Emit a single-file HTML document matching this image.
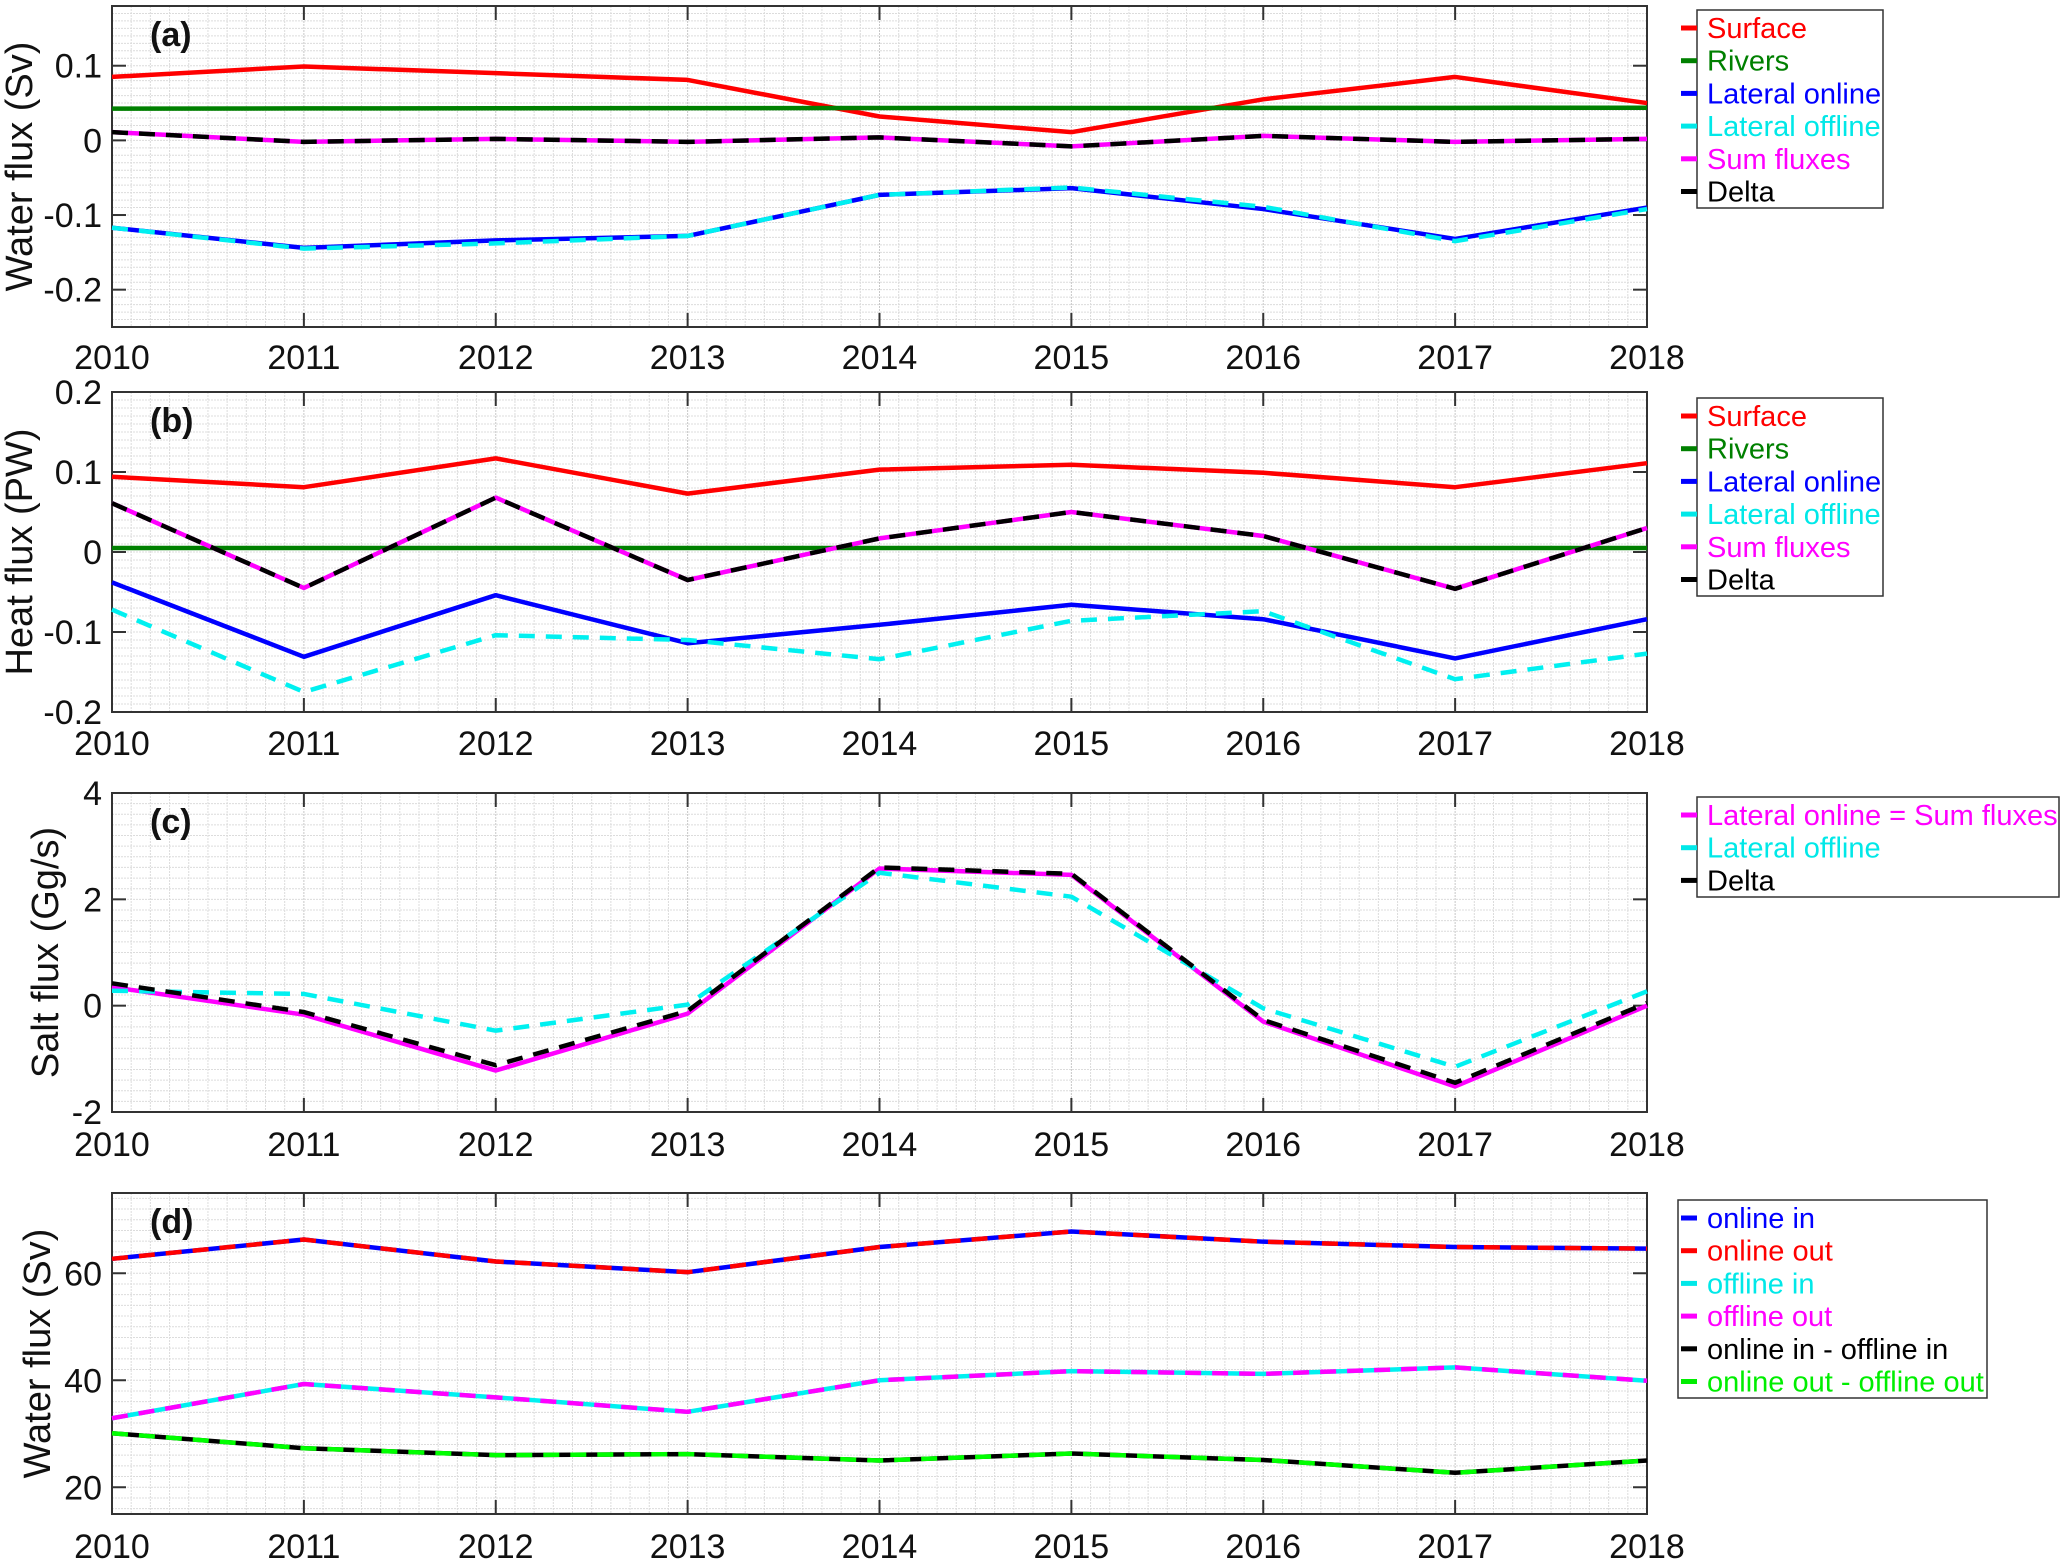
<!DOCTYPE html>
<html><head><meta charset="utf-8"><style>
html,body{margin:0;padding:0;background:#fff;}
svg{display:block;font-family:"Liberation Sans",Arial,sans-serif;}
</style></head><body>
<svg id="fig" width="2067" height="1565" viewBox="0 0 2067 1565" xmlns="http://www.w3.org/2000/svg"></svg>
<script>
const years = [2010,2011,2012,2013,2014,2015,2016,2017,2018];
// Panel (a) water flux (Sv)
const aSurface = [0.085,0.099,0.090,0.081,0.032,0.011,0.055,0.085,0.050];
const aRivers = [0.0425,0.0428,0.043,0.0432,0.0433,0.0434,0.0435,0.0436,0.0437];
const aOnline = [-0.117,-0.144,-0.134,-0.128,-0.073,-0.064,-0.092,-0.132,-0.090];
const aOffline = [-0.117,-0.145,-0.138,-0.128,-0.073,-0.063,-0.089,-0.135,-0.092];
const aSum = [0.011,-0.002,0.002,-0.002,0.004,-0.008,0.006,-0.002,0.002];
const aDelta = [0.011,-0.002,0.002,-0.002,0.004,-0.008,0.006,-0.002,0.002];
const aTicks = [0.1,0,-0.1,-0.2];
const aTickLabels = ["0.1","0","-0.1","-0.2"];
// Panel (b) heat flux (PW)
const bSurface = [0.094,0.081,0.117,0.073,0.103,0.109,0.099,0.081,0.111];
const bRivers = [0.005,0.005,0.005,0.005,0.005,0.005,0.005,0.005,0.005];
const bOnline = [-0.038,-0.131,-0.054,-0.114,-0.091,-0.066,-0.084,-0.133,-0.084];
const bOffline = [-0.072,-0.175,-0.104,-0.110,-0.134,-0.086,-0.074,-0.159,-0.127];
const bSum = [0.061,-0.045,0.068,-0.035,0.017,0.050,0.020,-0.046,0.030];
const bDelta = [0.061,-0.045,0.068,-0.035,0.017,0.050,0.020,-0.046,0.030];
const bTicks = [0.2,0.1,0,-0.1,-0.2];
const bTickLabels = ["0.2","0.1","0","-0.1","-0.2"];
// Panel (c) salt flux (Gg/s)
const cOnline = [0.35,-0.17,-1.22,-0.15,2.58,2.46,-0.30,-1.52,0.0];
const cOffline = [0.28,0.22,-0.47,0.02,2.50,2.05,-0.05,-1.15,0.27];
const cDelta = [0.42,-0.12,-1.12,-0.10,2.60,2.48,-0.27,-1.45,0.05];
const cTicks = [4,2,0,-2];
const cTickLabels = ["4","2","0","-2"];
// Panel (d) water flux (Sv)
const dOnlineIn = [62.7,66.3,62.2,60.2,64.9,67.8,65.9,64.9,64.6];
const dOnlineOut = [62.7,66.3,62.2,60.2,64.9,67.8,65.9,64.9,64.6];
const dOfflineIn = [32.9,39.3,36.8,34.1,40.0,41.7,41.2,42.4,39.9];
const dOfflineOut = [32.9,39.3,36.8,34.1,40.0,41.7,41.2,42.4,39.9];
const dDiffIn = [30.1,27.3,26.0,26.2,25.0,26.3,25.1,22.7,25.0];
const dDiffOut = [30.1,27.3,26.0,26.2,25.0,26.3,25.1,22.7,25.0];
const dTicks = [60,40,20];
const dTickLabels = ["60","40","20"];

const NS="http://www.w3.org/2000/svg";
const svg=document.getElementById('fig');
const XL=112, XR=1647;
const LEG_MARK_X=1681, LEG_TEXT_X=1707;
function xs(v){return XL+(v-2010)/8*(XR-XL);}
function mk(tag,attrs,parent){const e=document.createElementNS(NS,tag);for(const k in attrs)e.setAttribute(k,attrs[k]);(parent||svg).appendChild(e);return e;}

const panels=[
 {id:'a',top:6,bot:327,ymin:-0.25,ymax:0.18,minor:0.01,ticks:aTicks,tl:aTickLabels,xly:369,ylab:'Water flux (Sv)',ylx:22,
  series:[['surface',aSurface,'#ff0000',0],['rivers',aRivers,'#008000',0],['lateral-online',aOnline,'#0000ff',0],['lateral-offline',aOffline,'#00f0f0',1],['sum-fluxes',aSum,'#ff00ff',0],['delta',aDelta,'#000000',1]],
  leg:{x:1697,y:10,w:186,h:198,items:[['Surface','#ff0000'],['Rivers','#008000'],['Lateral online','#0000ff'],['Lateral offline','#00e8e8'],['Sum fluxes','#ff00ff'],['Delta','#000000']]}},
 {id:'b',top:392,bot:712,ymin:-0.2,ymax:0.2,minor:0.01,ticks:bTicks,tl:bTickLabels,xly:755,ylab:'Heat flux (PW)',ylx:22,
  series:[['surface',bSurface,'#ff0000',0],['rivers',bRivers,'#008000',0],['lateral-online',bOnline,'#0000ff',0],['lateral-offline',bOffline,'#00f0f0',1],['sum-fluxes',bSum,'#ff00ff',0],['delta',bDelta,'#000000',1]],
  leg:{x:1697,y:398,w:186,h:198,items:[['Surface','#ff0000'],['Rivers','#008000'],['Lateral online','#0000ff'],['Lateral offline','#00e8e8'],['Sum fluxes','#ff00ff'],['Delta','#000000']]}},
 {id:'c',top:793,bot:1112,ymin:-2,ymax:4,minor:0.2,ticks:cTicks,tl:cTickLabels,xly:1156,ylab:'Salt flux (Gg/s)',ylx:48,
  series:[['lateral-online-sum',cOnline,'#ff00ff',0],['lateral-offline',cOffline,'#00f0f0',1],['delta',cDelta,'#000000',1]],
  leg:{x:1697,y:797,w:362,h:100,items:[['Lateral online = Sum fluxes','#ff00ff'],['Lateral offline','#00e8e8'],['Delta','#000000']]}},
 {id:'d',top:1193,bot:1514,ymin:15,ymax:75,minor:2,ticks:dTicks,tl:dTickLabels,xly:1558,ylab:'Water flux (Sv)',ylx:40,
  series:[['online-in',dOnlineIn,'#0000ff',0],['online-out',dOnlineOut,'#ff0000',1],['offline-in',dOfflineIn,'#00f0f0',0],['offline-out',dOfflineOut,'#ff00ff',1],['online-in-minus-offline-in',dDiffIn,'#000000',0],['online-out-minus-offline-out',dDiffOut,'#00ff00',1]],
  leg:{x:1678,y:1200,w:309,h:198,items:[['online in','#0000ff'],['online out','#ff0000'],['offline in','#00e8e8'],['offline out','#ff00ff'],['online in - offline in','#000000'],['online out - offline out','#00ee00']]}}
];

panels.forEach(p=>{
  const g=mk('g',{});
  
  
  const ys=v=>p.bot-(v-p.ymin)/(p.ymax-p.ymin)*(p.bot-p.top);
  const gg=mk('g',{stroke:'#dcdcdc','stroke-width':1,'stroke-dasharray':'2,1'},g);
  
  
  for(let i=1;i<80;i++){const x=xs(2010+i/10);mk('line',{x1:x,x2:x,y1:p.top,y2:p.bot,stroke:i%10===0?'#c8c8c8':'#dcdcdc'},gg);}
  const start=Math.ceil(p.ymin/p.minor-1e-6);
  for(let k=start;k*p.minor<=p.ymax+1e-9;k++){const y=ys(k*p.minor);mk('line',{x1:XL,x2:XR,y1:y,y2:y},gg);}
  const box=mk('rect',{x:XL,y:p.top,width:XR-XL,height:p.bot-p.top,fill:'none',stroke:'#333','stroke-width':2},g);
  
  
  years.forEach(yr=>{const x=xs(yr);
    mk('line',{x1:x,x2:x,y1:p.bot,y2:p.bot-14,stroke:'#333','stroke-width':2},g);
    mk('line',{x1:x,x2:x,y1:p.top,y2:p.top+14,stroke:'#333','stroke-width':2},g);
    const t=mk('text',{x:x,y:p.xly,'text-anchor':'middle','font-size':34,fill:'#111'},g);
    t.textContent=yr;
    
    
  });
  p.ticks.forEach((v,i)=>{const y=ys(v);
    mk('line',{x1:XL,x2:XL+14,y1:y,y2:y,stroke:'#333','stroke-width':2},g);
    mk('line',{x1:XR,x2:XR-14,y1:y,y2:y,stroke:'#333','stroke-width':2},g);
    const t=mk('text',{x:102,y:y+12,'text-anchor':'end','font-size':34,fill:'#111'},g);
    t.textContent=p.tl[i];
    
    
  });
  const cy=(p.top+p.bot)/2;
  const yl=mk('text',{x:p.ylx,y:cy,'text-anchor':'middle','font-size':38,fill:'#111',transform:`rotate(-90 ${p.ylx} ${cy})`,'dominant-baseline':'middle'},g);
  yl.textContent=p.ylab;
  
  
  const pl=mk('text',{x:150,y:p.top+40,'font-size':34,'font-weight':'bold',fill:'#111'},g);
  pl.textContent='('+p.id+')';
  
  
  p.series.forEach(s=>{
    const pts=s[1].map((v,i)=>xs(years[i])+','+ys(v)).join(' ');
    const a={points:pts,fill:'none',stroke:s[2],'stroke-width':4.5,'stroke-linejoin':'round'};
    if(s[3])a['stroke-dasharray']='16,11';
    const l=mk('polyline',a,g);
    
    
  });
  const L=p.leg;
  const lg=mk('g',{},g);
  
  
  mk('rect',{x:L.x,y:L.y,width:L.w,height:L.h,fill:'#fff',stroke:'#333','stroke-width':1.5},lg);
  L.items.forEach((it,i)=>{const y=L.y+18+i*32.7;
    const e=mk('g',{},lg);
    
    
    mk('line',{x1:LEG_MARK_X,x2:LEG_MARK_X+16,y1:y,y2:y,stroke:it[1],'stroke-width':5},e);
    const t=mk('text',{x:LEG_TEXT_X,y:y+10,'font-size':29,fill:it[1]},e);
    t.textContent=it[0];
  });
});
</script>
</body></html>
